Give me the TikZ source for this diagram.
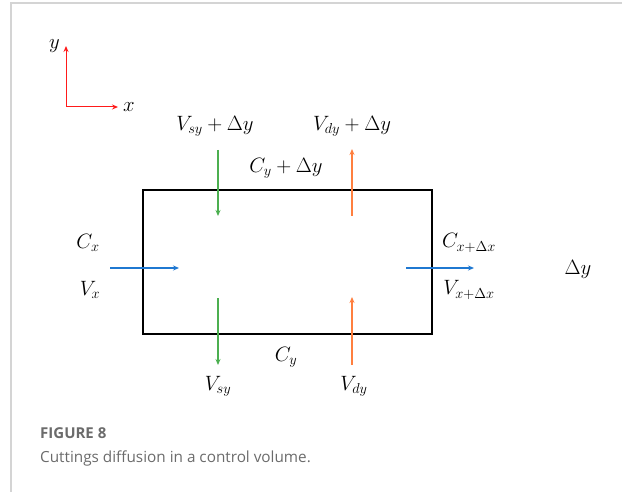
\documentclass[tikz,border=0pt]{standalone}
\usepackage{fontspec}
\newfontfamily\capfont{Open Sans}
\usetikzlibrary{arrows.meta, positioning}
\definecolor{AxisRed}{HTML}{FF1A1A}
\definecolor{SolidGreen}{HTML}{4CAF50}
\definecolor{DrillOrange}{HTML}{FF7F3F}
\definecolor{FluxBlue}{HTML}{1F78D1}
\definecolor{FrameGray}{HTML}{D4D4D4}
\definecolor{CapGray}{HTML}{6B6B6B}

\begin{document}
\begin{tikzpicture}[>={Stealth[length=6pt, width=5pt]}, x=1pt, y=-1pt]
        \tikzstyle{lbl}     = [font=\fontsize{20}{24}\selectfont, inner sep=0pt]
        \tikzstyle{flux}    = [->, line width=1.3pt]
        \tikzstyle{captext} = [anchor=west, inner sep=0pt, text=CapGray]

        \useasboundingbox (0,0) rectangle (622,492);
        \draw[FrameGray, line width=1.2pt] (622,3) -- (11,3) -- (11,492);

        % Axes
        \coordinate (o) at (66,107);
        \coordinate (ytip) at (66,46);
        \coordinate (xtip) at (118,107);
        \draw[flux, AxisRed, line width=1pt] (o) -- (ytip);
        \draw[flux, AxisRed, line width=1pt] (o) -- (xtip);
        \node[lbl, left=6pt of ytip] (ylab) {$y$};
        \node[lbl, right=5pt of xtip] (xlab) {$x$};

        % Control volume
        \node[draw, line width=1.6pt, minimum width=289pt, minimum height=144pt, anchor=north west] (cv) at (142,189) {};

        % Arrow end points
        \coordinate (s1) at (218,150);  \coordinate (s2) at (218,216);
        \coordinate (s3) at (218,298);  \coordinate (s4) at (218,365);
        \coordinate (d1) at (352,216);  \coordinate (d2) at (352,149);
        \coordinate (d3) at (352,365);  \coordinate (d4) at (352,297);
        \coordinate (xa) at (110,268);  \coordinate (xb) at (179,268);
        \coordinate (xc) at (406,268);  \coordinate (xd) at (474,268);

        % Arrows
        \draw[flux, SolidGreen] (s1) -- (s2);
        \draw[flux, SolidGreen] (s3) -- (s4);
        \draw[flux, DrillOrange] (d1) -- (d2);
        \draw[flux, DrillOrange] (d3) -- (d4);
        \draw[flux, FluxBlue] (xa) -- (xb);
        \draw[flux, FluxBlue] (xc) -- (xd);

        % Labels
        \node[lbl] (vsyt) at (215,126) {$V_{sy}+\Delta y$};
        \node[lbl] (vdyt) at (352,126) {$V_{dy}+\Delta y$};
        \node[lbl] (cyt) at (286,168) {$C_y+\Delta y$};
        \node[lbl] (cx) at (88,243) {$C_x$};
        \node[lbl] (vx) at (90,290) {$V_x$};
        \node[lbl] (cxd) at (469,243) {$C_{x+\Delta x}$};
        \node[lbl] (vxd) at (469,290) {$V_{x+\Delta x}$};
        \node[lbl] (dy) at (578,269) {$\Delta y$};
        \node[lbl] (cyb) at (286,357) {$C_y$};
        \node[lbl] (vsyb) at (218,386) {$V_{sy}$};
        \node[lbl] (vdyb) at (354,386) {$V_{dy}$};

        % Caption
        \node[captext, font=\capfont\fontsize{15}{18}\selectfont\bfseries] (fig) at (40,433) {FIGURE 8};
        \node[captext, font=\capfont\fontsize{15.3}{18}\selectfont] (txt) at (40,458) {Cuttings diffusion in a control volume.};
    \end{tikzpicture}
\end{document}
